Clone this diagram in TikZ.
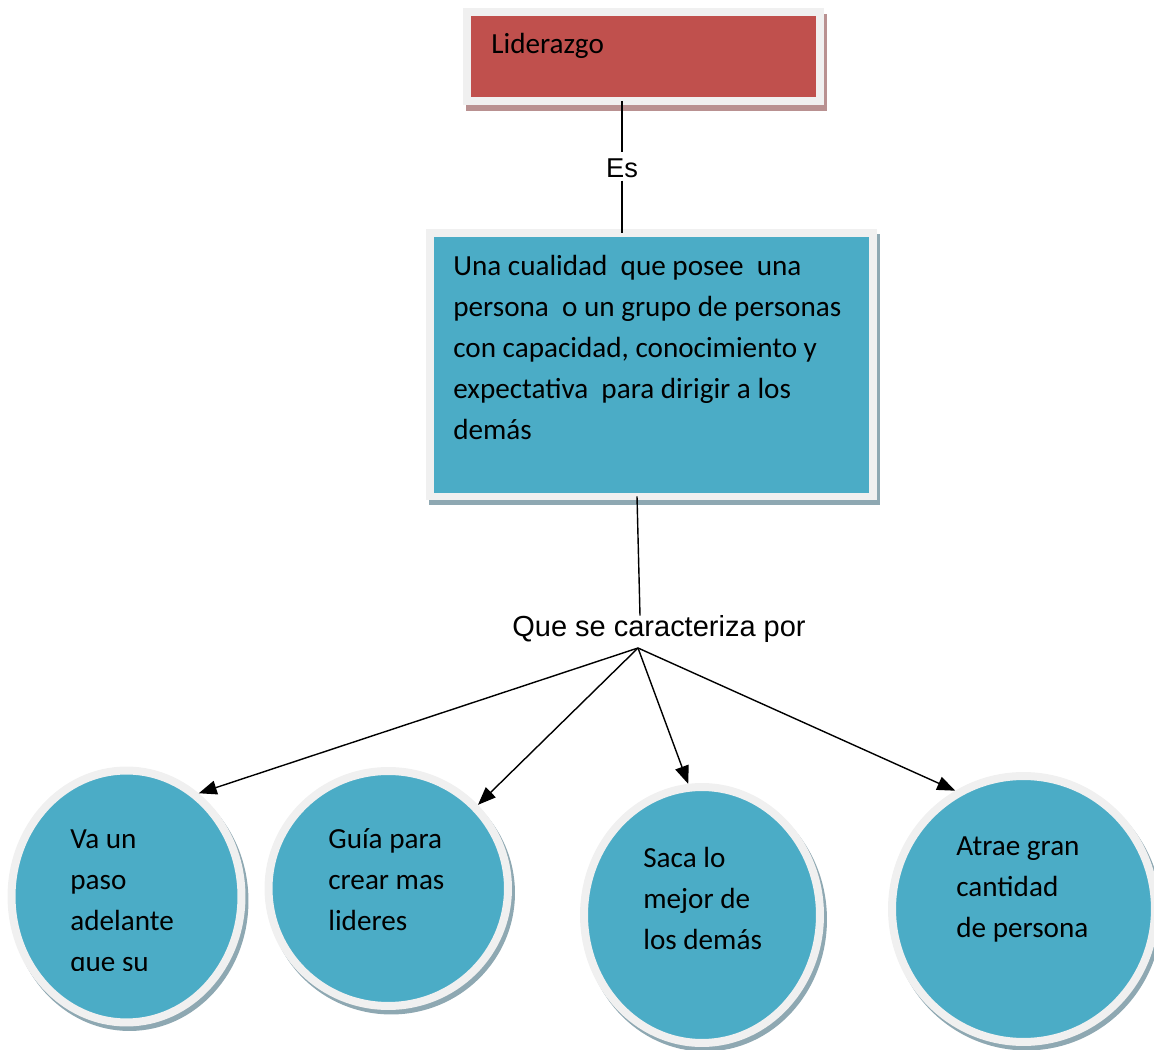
\documentclass[tikz,border=0pt]{standalone}
\usepackage{fontspec}
\setmainfont{Carlito}
\newfontfamily\arialfont{Liberation Sans}
\usepackage{tikz}
\usetikzlibrary{arrows.meta,shapes,shapes.geometric}
\usetikzlibrary{positioning}
\usetikzlibrary{shadows}
\definecolor{lidred}{HTML}{C0504D}
\definecolor{ballblue}{HTML}{4BACC6}
\definecolor{framegray}{HTML}{F0F0F0}
\definecolor{redshadow}{HTML}{B99191}
\definecolor{blueshadow}{HTML}{8EA8B2}
\tikzset{
	% >=stealth, %%  plain triangles below instead
    lidbox/.style={rectangle, draw=framegray, line width=0.16cm, fill=lidred,
        inner sep=0pt, outer sep=0pt, minimum width=7.06cm, minimum height=1.79cm,
        drop shadow={shadow xshift=0.06cm, shadow yshift=-0.13cm, fill=redshadow,
        draw=redshadow, line width=0.16cm, opacity=1}},
    defbox/.style={rectangle, draw=framegray, line width=0.15cm, fill=ballblue,
        inner sep=0pt, outer sep=0pt, minimum width=8.86cm, minimum height=5.27cm,
        drop shadow={shadow xshift=0.06cm, shadow yshift=-0.1cm, fill=blueshadow,
        draw=blueshadow, line width=0.15cm, opacity=1}},
    ideaball/.style={ellipse, draw=framegray, line width=0.16cm, fill=ballblue,
        inner sep=0pt, outer sep=0.08cm,
        drop shadow={shadow xshift=0.06cm, shadow yshift=-0.09cm, fill=blueshadow,
        draw=blueshadow, line width=0.16cm, opacity=1}},
    boxtext/.style={font=\fontsize{16.6}{23.34}\selectfont, align=left, inner sep=0pt, anchor=north west},
    linktext/.style={font=\arialfont\fontsize{15.5}{18}\selectfont, inner sep=0pt, anchor=base},
    link/.style={draw=black, line width=0.8pt},
    pointer/.style={link, -{Triangle[length=0.36cm,width=0.28cm]}},
}

\begin{document}
\begin{tikzpicture}[x=0.02cm, y=-0.02cm]
	\useasboundingbox (0,0) rectangle (1154,1050);
	\node[lidbox] (lid) at (643.5,56.25) {};
	\node[boxtext, anchor=base west] (lidtxt) at (491,54) {Liderazgo};
	\node[defbox] (def) at (651.5,364.75) {};
	\node[boxtext] (deftxt) at (453,246.3) {\strut Una cualidad\ \ que posee\ \ una\\
		persona\ \ o un grupo de personas\\ con capacidad, conocimiento y\\
		expectativa\ \ para dirigir a los\\ demás};
	\node[linktext] (es) at (622,178) {Es};
	\node[linktext, font=\arialfont\fontsize{16.5}{19}\selectfont] (que) at (659,637) {Que se caracteriza por};
	\coordinate (hub) at (638,648);

	\node[ideaball, minimum width=4.6cm, minimum height=5.04cm] (c1) at (126.5,896.5) {};
	\node[ideaball, minimum width=4.79cm, minimum height=4.7cm] (c2) at (388.25,888.5) {};
	\node[ideaball, minimum width=4.72cm, minimum height=5.12cm] (c3) at (702,915) {};
	\node[ideaball, minimum width=5.26cm, minimum height=5.32cm] (c4) at (1023.5,909) {};
 \begin{scope}
	\clip (0,0) rectangle (1154,971);
	\node[boxtext] (t1) at (70,819.3) {\strut Va un\\ paso\\ adelante\\ que su};
 \end{scope}
	\node[boxtext] (t2) at (328,819.3) {\strut Guía para\\ crear mas\\ lideres};
	\node[boxtext] (t3) at (643,838.3) {\strut Saca lo\\ mejor de\\ los demás};
	\node[boxtext] (t4) at (956,826.3) {\strut Atrae gran\\ cantidad\\ de persona};

	\draw[link] (lid.south -| es.north) -- ([yshift=0.13cm]es.north);
	\draw[link] ([yshift=-0.04cm]es.south) -- (es.south |- def.north);
	\draw[link] ([xshift=-0.29cm]def.south) -- ([xshift=-0.38cm]que.north);
	\draw[pointer] (hub) -- (c1.55);
	\draw[pointer] (hub) -- (c2.43);
	\draw[pointer] (hub) -- (c3.96);
	\draw[pointer] (hub) -- (c4.120);
\end{tikzpicture}
\end{document}
